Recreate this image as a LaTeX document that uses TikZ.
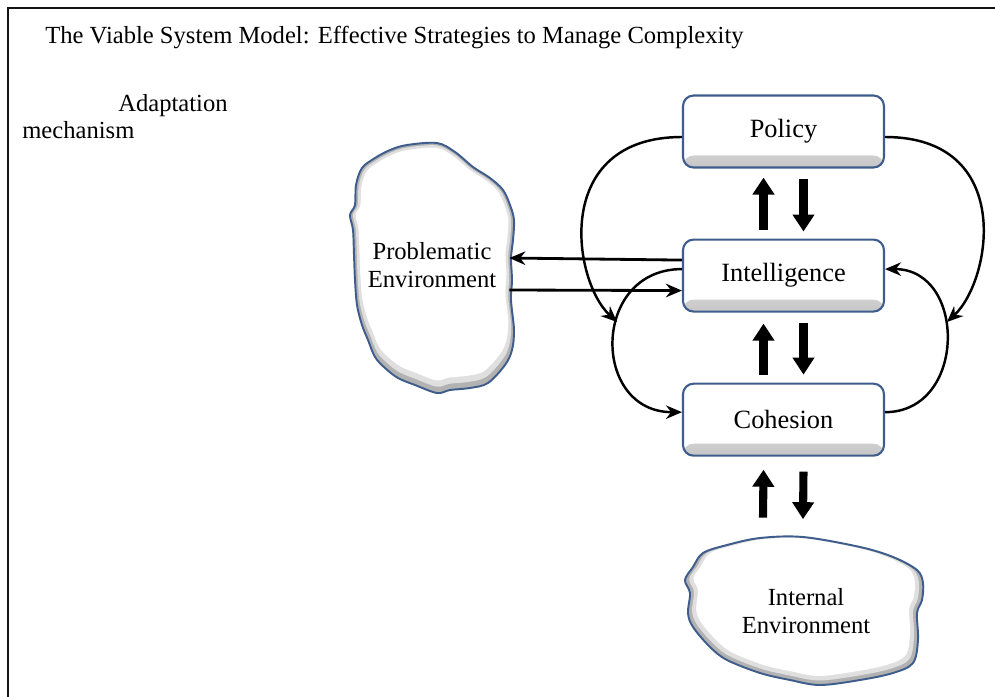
\documentclass[tikz,border=0pt]{standalone}
\usepackage{fontspec}
\setmainfont{Liberation Serif}
\usepackage{tikz}
\usetikzlibrary{arrows.meta,positioning}
\definecolor{vsmblue}{RGB}{62,92,140}
\definecolor{vsmframe}{RGB}{20,20,20}

% outlines of the two environments (pixel grid)
\newcommand{\probblob}{plot[smooth cycle, tension=0.55] coordinates {
  (407,145) (437,143) (455,152) (473,167) (490,178) (503,190) (510,205)
  (514,220) (513,240) (511,258) (512,280) (511,300) (514,330) (512,350)
  (505,365) (488,383) (470,388) (450,390) (437,393) (415,385) (398,378)
  (385,368) (375,357) (368,340) (362,325) (357,305) (355,280) (354,255)
  (353,230) (350,215) (355,205) (356,185) (362,168) (375,158) (390,150)}}
\newcommand{\intblob}{plot[smooth cycle, tension=0.55] coordinates {
  (803,537) (860,547) (893,557) (917,570) (923,583) (922,600) (917,613)
  (918,640) (913,663) (893,673) (860,680) (820,685) (790,680) (760,673)
  (727,660) (710,647) (693,627) (688,613) (690,593) (685,580) (693,567)
  (703,553) (727,545) (760,538)}}

\begin{document}
\begin{tikzpicture}[x=0.02cm, y=-0.02cm,
    box/.style={draw=vsmblue, line width=1.2pt, rounded corners=6pt,
                fill=white, minimum width=4.02cm, minimum height=1.44cm,
                font=\fontsize{15}{18}\selectfont,
                path picture={\shade[top color=white, bottom color=gray!45]
                  ([yshift=0.24cm]path picture bounding box.south west)
                  rectangle (path picture bounding box.south east);}},
    env/.style={align=center, font=\fontsize{14}{16}\selectfont},
    lbl/.style={inner sep=0pt, font=\fontsize{14}{17}\selectfont},
    arr/.style={-{Stealth[length=3.2mm, width=2.7mm]}, line width=1.4pt},
    blk/.style={-{Triangle[length=3.4mm, width=4.2mm]}, line width=4.6pt},
    node distance=1.4cm
]
\useasboundingbox (0,0) rectangle (995,697);
\draw[vsmframe, line width=1.7pt] (8,697) -- (8,8) -- (995,8);

% environments
\fill[gray!60] \probblob;
\fill[gray!25, scale around={0.965:(432,268)}, yshift=0.04cm] \probblob;
\fill[white, scale around={0.93:(432,266)}, yshift=0.08cm] \probblob;
\draw[vsmblue, line width=1.1pt] \probblob;
\fill[gray!60] \intblob;
\fill[gray!25, scale around={0.965:(805,611)}, yshift=0.04cm] \intblob;
\fill[white, scale around={0.93:(805,609)}, yshift=0.08cm] \intblob;
\draw[vsmblue, line width=1.1pt] \intblob;

\node[anchor=base west, lbl] (title) at (45,43)
  {The Viable System Model: Effective Strategies to Manage Complexity};
\node[anchor=base west, lbl] (adapt) at (118,111) {Adaptation};
\node[anchor=base west, lbl] (mech) at (22,138) {mechanism};

\node[env, minimum width=3.2cm, minimum height=5cm] (probenv) at (432,265)
  {Problematic\\Environment};
\node[env, minimum width=4.72cm, minimum height=2.96cm] (intenv) at (806,611)
  {Internal\\Environment};

\node[box] (pol) at (783.5,131.5) {Policy};
\node[box, below=of pol] (intel) {Intelligence};
\node[box, below=of intel] (coh) {Cohesion};

\coordinate (lmeet) at (617,322);
\coordinate (rmeet) at (947,322);

% vertical exchanges
\draw[blk] ([xshift=-0.4cm,yshift=0.18cm]intel.north) -- ([xshift=-0.4cm,yshift=-0.18cm]pol.south);
\draw[blk] ([xshift=0.4cm,yshift=-0.2cm]pol.south) -- ([xshift=0.4cm,yshift=0.14cm]intel.north);
\draw[blk] ([xshift=-0.4cm,yshift=0.16cm]coh.north) -- ([xshift=-0.4cm,yshift=-0.22cm]intel.south);
\draw[blk] ([xshift=0.4cm,yshift=-0.2cm]intel.south) -- ([xshift=0.4cm,yshift=0.16cm]coh.north);
\draw[blk] ([xshift=-0.86cm,yshift=0.38cm]intenv.north) -- ([xshift=-0.4cm,yshift=-0.26cm]coh.south);
\draw[blk] ([xshift=0.4cm,yshift=-0.3cm]coh.south) -- ([xshift=-0.06cm,yshift=0.35cm]intenv.north);

% environment links
\draw[arr, line width=1.6pt] ([yshift=0.31cm]intel.west) -- ([xshift=-0.06cm,yshift=0.14cm]probenv.east);
\draw[arr, line width=1.6pt] ([xshift=-0.06cm,yshift=-0.5cm]probenv.east) -- ([yshift=-0.3cm]intel.west);

% loops
\draw[arr] ([yshift=0.13cm]intel.west) .. controls +(-91,0) and +(-91,0) .. ([yshift=0.15cm]coh.west);
\draw[arr] ([yshift=0.15cm]coh.east) .. controls +(82,0) and +(82,0) .. ([yshift=0.13cm]intel.east);
\draw[arr] ([yshift=-0.11cm]pol.west) .. controls +(-130,0) and +(-45,-42) .. (lmeet);
\draw[arr] ([yshift=-0.11cm]pol.east) .. controls +(130,0) and +(45,-42) .. (rmeet);
\end{tikzpicture}
\end{document}
